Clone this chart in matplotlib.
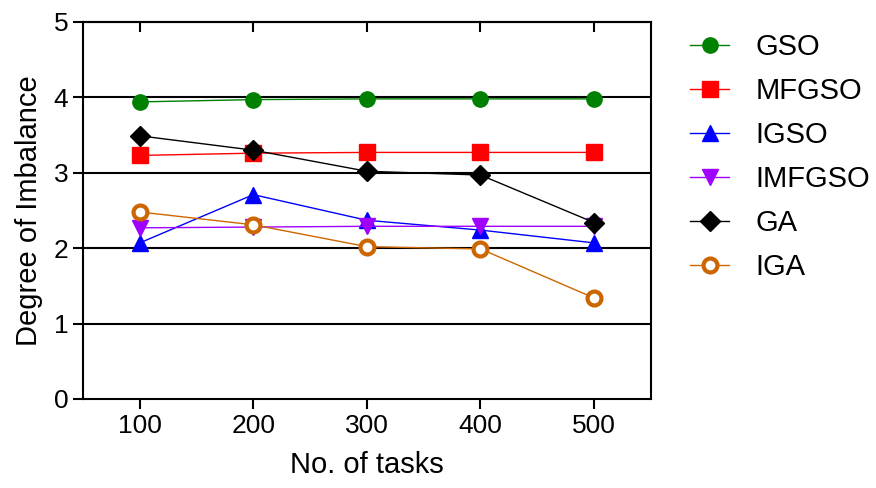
import matplotlib
matplotlib.use("Agg")
import matplotlib.pyplot as plt

plt.rcParams['font.family'] = ['Liberation Sans', 'DejaVu Sans']

tasks = [100, 200, 300, 400, 500]
gso = [3.94, 3.97, 3.98, 3.98, 3.98]
mfgso = [3.23, 3.26, 3.27, 3.27, 3.27]
igso = [2.07, 2.71, 2.37, 2.24, 2.07]
imfgso = [2.27, 2.28, 2.29, 2.29, 2.29]
ga = [3.49, 3.30, 3.02, 2.97, 2.34]
iga = [2.48, 2.31, 2.02, 1.99, 1.34]

fig = plt.figure(figsize=(8.76, 4.88), dpi=100)
ax = fig.add_axes([0.0947, 0.1824, 0.6483, 0.7726])

ax.set_xlim(50, 550)
ax.set_ylim(0, 5)
ax.set_yticks([0, 1, 2, 3, 4, 5])
ax.set_xticks(tasks)

for yv in [1, 2, 3, 4]:
    ax.axhline(yv, color='black', lw=1.5, zorder=1)

ax.plot(tasks, gso, color='#008000', lw=1, marker='o', ms=11, label='GSO', zorder=3)
ax.plot(tasks, mfgso, color='#ff0000', lw=1, marker='s', ms=11, label='MFGSO', zorder=3)
ax.plot(tasks, igso, color='#0000ff', lw=1, marker='^', ms=11, label='IGSO', zorder=3)
ax.plot(tasks, imfgso, color='#a000ff', lw=1, marker='v', ms=11, label='IMFGSO', zorder=3)
ax.plot(tasks, ga, color='black', lw=1, marker='D', ms=10, label='GA', zorder=3)
ax.plot(tasks, iga, color='#cc6600', lw=1, marker='o', ms=10, mfc='white', mew=3,
        label='IGA', zorder=3)

for s in ax.spines.values():
    s.set_linewidth(1.5)

ax.tick_params(axis='both', labelsize=19, width=1.5, length=7, direction='out')
ax.tick_params(axis='y', right=False)
top = ax.secondary_xaxis('top')
top.set_xticks(tasks)
top.tick_params(direction='in', length=7, width=1.5, labeltop=False)
top.spines['top'].set_linewidth(1.5)

ax.set_xlabel('No. of tasks', fontsize=21, labelpad=10)
ax.set_ylabel('Degree of Imbalance', fontsize=21, labelpad=8)

ax.legend(loc='upper left', bbox_to_anchor=(0.7877, 0.932), bbox_transform=fig.transFigure,
          frameon=False, fontsize=21, handlelength=1.34, handletextpad=0.9,
          labelspacing=0.55, borderpad=0, borderaxespad=0)

fig.savefig('out.png', dpi=100)
